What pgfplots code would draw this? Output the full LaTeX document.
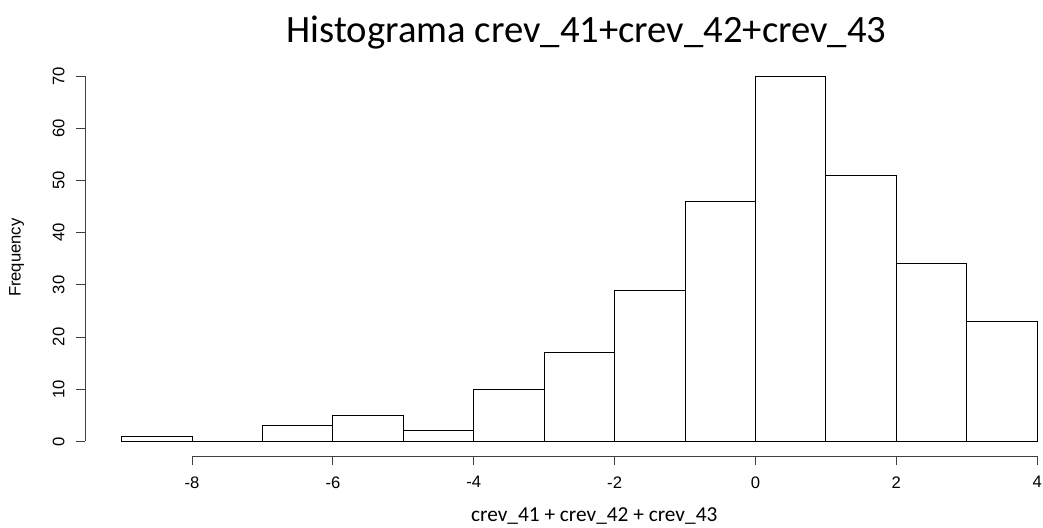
\documentclass[border=0pt]{standalone}
\usepackage{fontspec}
\setmainfont{Carlito}
\newfontfamily\arial{Liberation Sans}
\usepackage{pgfplots}
\pgfplotsset{compat=1.18}
\begin{document}
\begin{tikzpicture}
\begin{axis}[
  scale only axis, width=955bp, height=394.6bp,
  xmin=-9.52, xmax=4.04, ymin=-2.8, ymax=72.8,
  axis lines*=left, axis line style={draw=none},
  xtick={-8,-6,...,4}, ytick={0,10,...,70},
  tick align=outside, major tick length=9bp,
  tick style={black!75, line width=0.9bp},
  /pgf/number format/assume math mode=true,
  tick label style={font=\arial\fontsize{16.7}{20}\selectfont},
  xticklabel shift=8bp,
  yticklabel style={rotate=90, anchor=south},
  yticklabel shift=8bp,
  clip=false
]
\addplot[ybar interval, fill=white, draw=black, line width=1bp] coordinates {
  (-9,1) (-8,0) (-7,3) (-6,5) (-5,2) (-4,10) (-3,17) (-2,29)
  (-1,46) (0,70) (1,51) (2,34) (3,23) (4,23)
};
% R-style axis lines that only span the tick range
\draw[black!75, line width=0.9bp] (axis cs:-8,-2.8) -- (axis cs:4,-2.8);
\draw[black!75, line width=0.9bp] (axis cs:-9.52,0) -- (axis cs:-9.52,70);
\node[anchor=base, font=\fontsize{38.8}{44}\selectfont] at (axis cs:-2.4,76.5) {Histograma crev\_41+crev\_42+crev\_43};
\node[anchor=base, font=\fontsize{21.4}{25}\selectfont] at (axis cs:-2.29,-15.44) {crev\_41 + crev\_42 + crev\_43};
\node[rotate=90, font=\arial\fontsize{16.7}{20}\selectfont] at (axis cs:-10.49,35.2) {Frequency};
\coordinate (O) at (rel axis cs:0,0);
\end{axis}
\pgfresetboundingbox
\useasboundingbox (O) ++(-85bp,-72bp) rectangle ++(1043bp,528bp);
\end{tikzpicture}
\end{document}
